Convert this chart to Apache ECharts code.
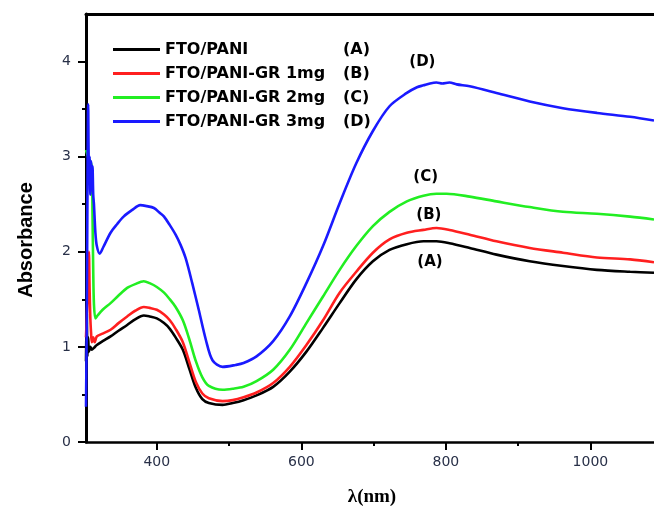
<!DOCTYPE html>
<html>
<head>
<meta charset="utf-8">
<script src="https://cdn.jsdelivr.net/npm/echarts@6/dist/echarts.min.js"></script>
<style>html,body{margin:0;padding:0;background:#fff}#c{width:654px;height:507px}</style>
</head>
<body>
<div id="c"></div>
<script>
// ---- data (wavelength nm, absorbance) ----
const seriesNames = ['FTO/PANI', 'FTO/PANI-GR 1mg', 'FTO/PANI-GR 2mg', 'FTO/PANI-GR 3mg'];
const seriesTags = ['(A)', '(B)', '(C)', '(D)'];
const xTickLabels = [400, 600, 800, 1000];
const xMinorTicks = [500, 700, 900];
const yTickLabels = [0, 1, 2, 3, 4];
const yMinorTicks = [0.5, 1.5, 2.5, 3.5];

const curveA = [[302,0.85],[303,1.38],[304,0.9],[305,1.1],[306,0.95],[308,1.0],[310,0.97],[313,0.99],[317,1.02],[325,1.06],[336,1.11],[347,1.17],[359,1.23],[370,1.29],[382,1.33],[390,1.32],[400,1.30],[410,1.25],[418,1.19],[426,1.10],[436,0.97],[445,0.77],[454,0.57],[463,0.45],[472,0.41],[491,0.39],[505,0.41],[520,0.44],[538,0.49],[561,0.58],[584,0.74],[607,0.95],[630,1.20],[653,1.46],[676,1.71],[699,1.90],[722,2.02],[746,2.08],[769,2.11],[787,2.11],[805,2.09],[833,2.04],[870,1.97],[916,1.90],[962,1.85],[1009,1.81],[1055,1.79],[1088,1.78]];
const curveB = [[302,1.1],[304,1.5],[305,1.8],[306,2.0],[307,1.6],[308,1.3],[309,1.15],[310,1.05],[312,1.1],[314,1.05],[317,1.11],[325,1.14],[336,1.18],[347,1.25],[359,1.32],[370,1.38],[382,1.42],[390,1.41],[400,1.39],[410,1.34],[418,1.28],[426,1.19],[436,1.05],[445,0.84],[454,0.63],[463,0.51],[472,0.46],[491,0.43],[505,0.44],[520,0.47],[538,0.52],[561,0.62],[584,0.79],[607,1.02],[630,1.28],[653,1.57],[676,1.79],[699,1.99],[722,2.13],[746,2.20],[769,2.23],[787,2.25],[805,2.23],[833,2.18],[870,2.11],[916,2.04],[962,1.99],[1009,1.94],[1055,1.92],[1088,1.89]];
const curveC = [[302,3.07],[304,3.02],[306,2.98],[308,2.95],[310,2.9],[311,2.4],[312,1.8],[313,1.45],[315,1.30],[318,1.33],[325,1.39],[336,1.46],[347,1.54],[359,1.62],[370,1.66],[382,1.69],[390,1.67],[400,1.63],[410,1.57],[418,1.50],[426,1.42],[436,1.28],[445,1.08],[454,0.85],[463,0.68],[472,0.59],[491,0.55],[505,0.56],[520,0.58],[538,0.64],[561,0.76],[584,0.97],[607,1.25],[630,1.53],[653,1.81],[676,2.06],[699,2.27],[722,2.42],[746,2.53],[769,2.59],[787,2.61],[801,2.61],[833,2.58],[870,2.53],[916,2.47],[962,2.42],[1009,2.40],[1055,2.37],[1088,2.34]];
const curveD = [[302,0.37],[303,1.2],[304,2.6],[305,3.55],[306,2.9],[307,3.0],[308,2.6],[309,2.95],[310,2.65],[311,2.9],[312,2.6],[313,2.5],[315,2.2],[317,2.06],[321,1.98],[326,2.05],[336,2.20],[345,2.29],[354,2.37],[366,2.44],[377,2.49],[386,2.48],[396,2.46],[404,2.41],[410,2.37],[418,2.28],[426,2.18],[433,2.07],[440,1.93],[449,1.67],[458,1.39],[468,1.07],[477,0.86],[491,0.79],[509,0.81],[520,0.83],[538,0.90],[561,1.06],[584,1.32],[607,1.67],[630,2.06],[653,2.51],[676,2.93],[699,3.27],[722,3.53],[746,3.67],[760,3.73],[769,3.75],[778,3.77],[787,3.78],[795,3.77],[805,3.78],[815,3.76],[833,3.74],[870,3.67],[916,3.58],[962,3.51],[1009,3.46],[1055,3.42],[1088,3.38]];
const curves = [curveA, curveB, curveC, curveD];
const tagPos = [[778,1.89],[776.5,2.39],[772,2.78],[767.5,3.99]];

const colors = ['#000000', '#ff1f1f', '#22ee22', '#1a1aff'];
const tickFont = {fontFamily: 'DejaVu Sans', fontSize: 14, color: '#283048'};

const chart = echarts.init(document.getElementById('c'), null, {renderer: 'canvas'});
const option = {
  animation: false,
  backgroundColor: '#fff',
  grid: {left: 86, right: 0, top: 14, bottom: 65, containLabel: false},
  legend: {
    orient: 'vertical', left: 108, top: 35,
    icon: 'rect', itemWidth: 47, itemHeight: 3, itemGap: 5,
    data: seriesNames,
    formatter: function (name) {
      const i = seriesNames.indexOf(name);
      return '{n|' + name + '}{t|' + seriesTags[i] + '}';
    },
    textStyle: {
      lineHeight: 19,
      rich: {
        n: {width: 178, fontFamily: 'DejaVu Sans', fontWeight: 'bold', fontSize: 16, color: '#000'},
        t: {fontFamily: 'DejaVu Sans', fontWeight: 'bold', fontSize: 16, color: '#000'}
      }
    }
  },
  xAxis: [
    {type: 'value', min: 302, max: 1088, position: 'bottom',
      axisLine: {show: true, onZero: false, lineStyle: {color: '#000', width: 2.5}},
      axisTick: {show: true, inside: false, length: 8, customValues: xTickLabels, lineStyle: {color: '#000', width: 2}},
      axisLabel: {show: true, margin: 13, customValues: xTickLabels, formatter: v => String(v), ...tickFont},
      splitLine: {show: false}},
    {type: 'value', min: 302, max: 1088, position: 'bottom',
      axisLine: {show: false},
      axisTick: {show: true, inside: false, length: 4, customValues: xMinorTicks, lineStyle: {color: '#000', width: 2}},
      axisLabel: {show: false}, splitLine: {show: false}},
    {type: 'value', min: 302, max: 1088, position: 'top',
      axisLine: {show: true, onZero: false, lineStyle: {color: '#000', width: 3}},
      axisTick: {show: false}, axisLabel: {show: false}, splitLine: {show: false}}
  ],
  yAxis: [
    {type: 'value', min: 0, max: 4.5, position: 'left',
      axisLine: {show: true, onZero: false, lineStyle: {color: '#000', width: 3}},
      axisTick: {show: true, inside: false, length: 8, customValues: yTickLabels, lineStyle: {color: '#000', width: 2}},
      axisLabel: {show: true, margin: 15, customValues: yTickLabels, formatter: v => String(v), ...tickFont},
      splitLine: {show: false}},
    {type: 'value', min: 0, max: 4.5, position: 'left',
      axisLine: {show: false},
      axisTick: {show: true, inside: false, length: 4, customValues: yMinorTicks, lineStyle: {color: '#000', width: 2}},
      axisLabel: {show: false}, splitLine: {show: false}}
  ],
  graphic: [
    {type: 'text', x: 26, y: 240, rotation: Math.PI / 2,
      style: {text: 'Absorbance', fontFamily: 'Liberation Sans, Arial', fontWeight: 'bold', fontSize: 20, fill: '#000', align: 'center', verticalAlign: 'middle'}},
    {type: 'text', x: 372, y: 497,
      style: {text: 'λ(nm)', fontFamily: 'Liberation Serif, Times New Roman', fontWeight: 'bold', fontSize: 19, fill: '#000', align: 'center', verticalAlign: 'middle'}}
  ],
  series: curves.map((c, i) => ({
    name: seriesNames[i], type: 'line', data: c, xAxisIndex: 0, yAxisIndex: 0,
    showSymbol: false, symbol: 'none', smooth: 0.3, clip: true,
    lineStyle: {color: colors[i], width: 2.6}, itemStyle: {color: colors[i]},
    markPoint: {
      symbol: 'circle', symbolSize: 1, itemStyle: {color: 'rgba(0,0,0,0)'},
      label: {show: true, position: 'inside', formatter: seriesTags[i], fontFamily: 'DejaVu Sans', fontWeight: 'bold', fontSize: 15, color: '#000'},
      data: [{coord: tagPos[i]}]
    }
  }))
};
chart.setOption(option);
</script>
</body>
</html>
